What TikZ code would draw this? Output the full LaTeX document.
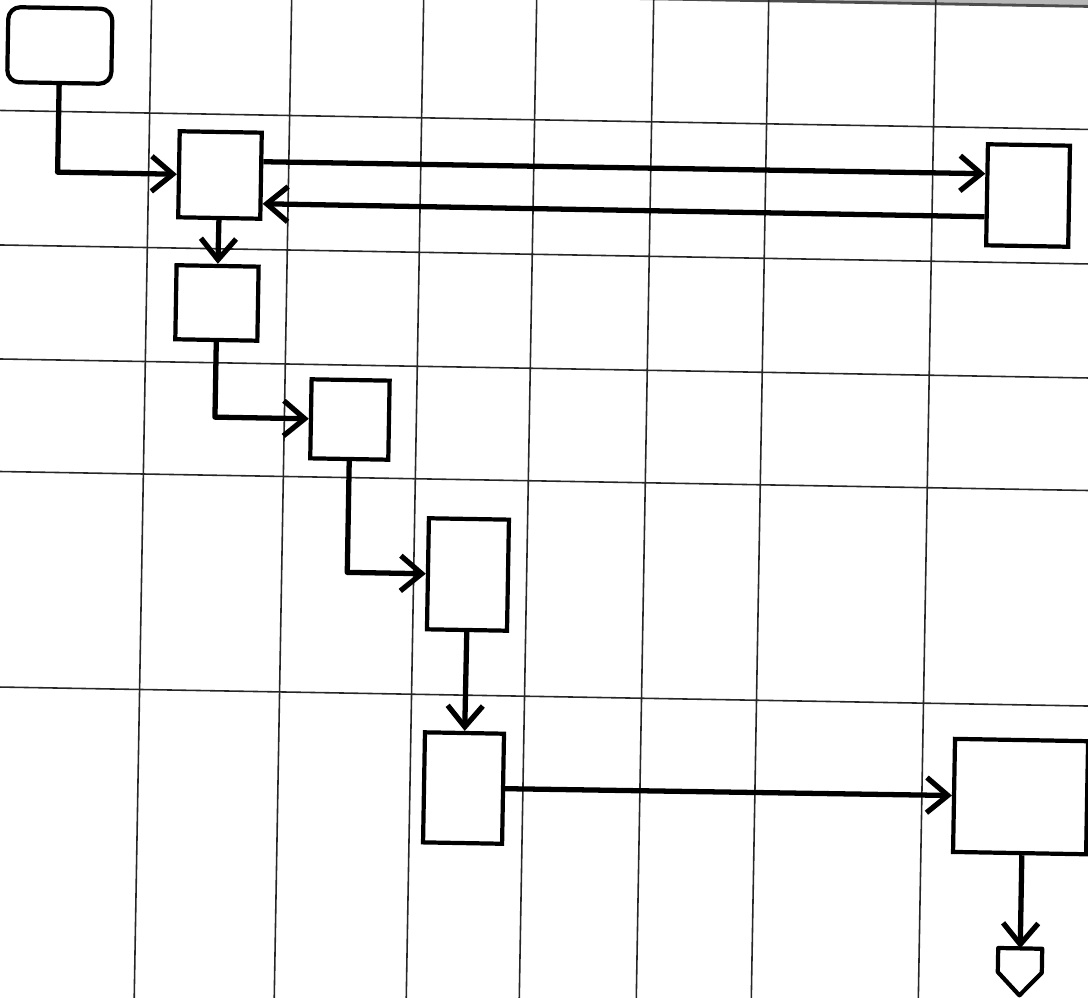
\documentclass[tikz,border=0pt]{standalone}
\usetikzlibrary{arrows.meta}
\begin{document}
\begin{tikzpicture}[
    x=0.01cm,y=-0.01cm,
    grid/.style={draw=black!85, line width=0.45pt},
    frame/.style={draw=black, line width=1.2pt, fill=white, inner sep=0pt},
    start/.style={frame, rounded corners=0.12cm, minimum width=1.04cm, minimum height=0.75cm},
    box/.style 2 args={frame, minimum width=#1cm, minimum height=#2cm},
    flow/.style={line width=1.5pt, line join=round, -{Straight Barb[length=6pt,width=10pt]}}
]
    \useasboundingbox (0,0) rectangle (1088,997);
    \fill[white] (0,0) rectangle (1088,997);

    \begin{scope}
    \clip (0,0) rectangle (1088,997);
    % the scanned sheet sits about one degree off
    \begin{scope}[rotate around={-1:(544,498)}, transform shape]
        \fill[black!28] (-100,-200) rectangle (1300,-3);
        \draw[grid, draw=black!70, line width=0.8pt] (-100,-3) -- (1300,-3);

        \foreach \gx in {143,283,415,528,645,760,927}
            \draw[grid] (\gx,-50) -- (\gx,1060);
        \foreach \gy in {120,254.5,368.5,481,696.5}
            \draw[grid] (-50,\gy) -- (1150,\gy);

        \node[start] (begin) at (52,54) {};
        \node[box={0.82}{0.86}] (recv) at (214.4,180.7) {};
        \node[box={0.82}{1.01}] (check) at (1022.7,187.1) {};
        \node[box={0.82}{0.74}] (prep) at (213.6,308.7) {};
        \node[box={0.78}{0.79}] (ship) at (348.6,422.9) {};
        \node[box={0.80}{1.11}] (pack) at (469.3,575.8) {};
        \node[box={0.79}{1.10}] (load) at (468.6,789.4) {};
        \node[box={1.33}{1.13}] (deliver) at (1025.7,788.2) {};

        % off-page connector
        \coordinate (exit) at (1028,940);
        \draw[frame, line join=round] (exit) ++(-22,0) -- ++(44,0) -- ++(0,24) -- ++(-22,23) -- ++(-22,-23) -- cycle;

        \draw[flow] (begin.south) |- (recv.west);
        \draw[flow] (recv.18) -- (check.154);
        \draw[flow] (check.207) -- (recv.327);
        \draw[flow] (recv) -- (prep);
        \draw[flow] (prep.south) |- (ship.west);
        \draw[flow] (ship.south) |- (pack.west);
        \draw[flow] (pack) -- (load);
        \draw[flow] (load) -- (deliver);
        \draw[flow] (exit |- deliver.south) -- (exit);
    \end{scope}
    \end{scope}
\end{tikzpicture}
\end{document}
